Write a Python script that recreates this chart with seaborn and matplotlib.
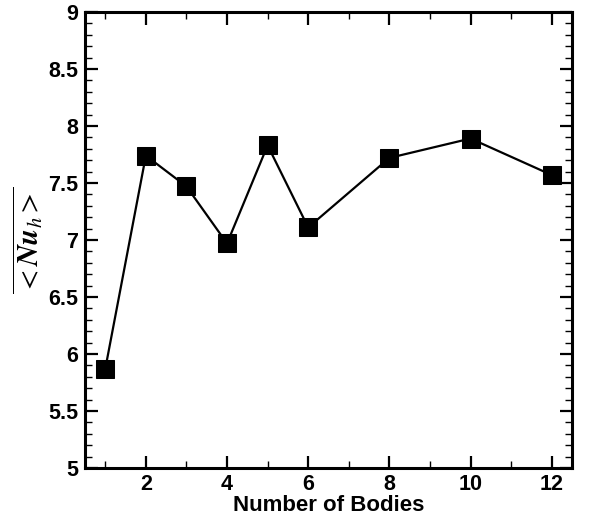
import matplotlib
matplotlib.use("Agg")
import matplotlib.pyplot as plt
import pandas as pd
import seaborn as sns
from matplotlib.ticker import MultipleLocator

# data
n_bodies = [1, 2, 3, 4, 5, 6, 8, 10, 12]
nu_mean = [5.87, 7.74, 7.47, 6.97, 7.83, 7.11, 7.72, 7.89, 7.57]
y_ticks = [5, 5.5, 6, 6.5, 7, 7.5, 8, 8.5, 9]
y_ticklabels = ["5", "5.5", "6", "6.5", "7", "7.5", "8", "8.5", "9"]

sns.set_theme(style="ticks")
plt.rcParams["font.family"] = ["Liberation Sans", "DejaVu Sans"]
plt.rcParams["mathtext.fontset"] = "stix"

df = pd.DataFrame({"n": n_bodies, "nu": nu_mean})

fig = plt.figure(figsize=(5.96, 5.17), dpi=100)
ax = fig.add_axes([0.1426, 0.0948, 0.9597 - 0.1426, 0.9768 - 0.0948])

sns.lineplot(data=df, x="n", y="nu", ax=ax, color="black", linewidth=1.6,
             marker="s", markersize=13.5, markeredgecolor="black",
             markerfacecolor="black")

ax.set_xlim(0.5, 12.5)
ax.set_ylim(5, 9)
ax.xaxis.set_major_locator(MultipleLocator(2))
ax.xaxis.set_minor_locator(MultipleLocator(1))
ax.set_yticks(y_ticks)
ax.set_yticklabels(y_ticklabels)
ax.yaxis.set_minor_locator(MultipleLocator(0.1))

ax.tick_params(which="both", direction="in", top=True, right=True,
               color="black", labelcolor="black")
ax.tick_params(which="major", length=9, width=1.6, labelsize=15.5, pad=5)
ax.tick_params(axis="x", which="major", pad=4)
ax.tick_params(which="minor", length=5, width=1.0)
for lbl in ax.get_xticklabels() + ax.get_yticklabels():
    lbl.set_fontweight("bold")
for sp in ax.spines.values():
    sp.set_linewidth(2.2)
    sp.set_color("black")

ax.set_xlabel("Number of Bodies", fontsize=16, fontweight="bold",
              color="black", labelpad=0.5)
ax.set_ylabel(r"$\overline{<\mathbfit{Nu}_h>}$", fontsize=21,
              color="black", labelpad=2)

fig.savefig("out.png", dpi=100)
